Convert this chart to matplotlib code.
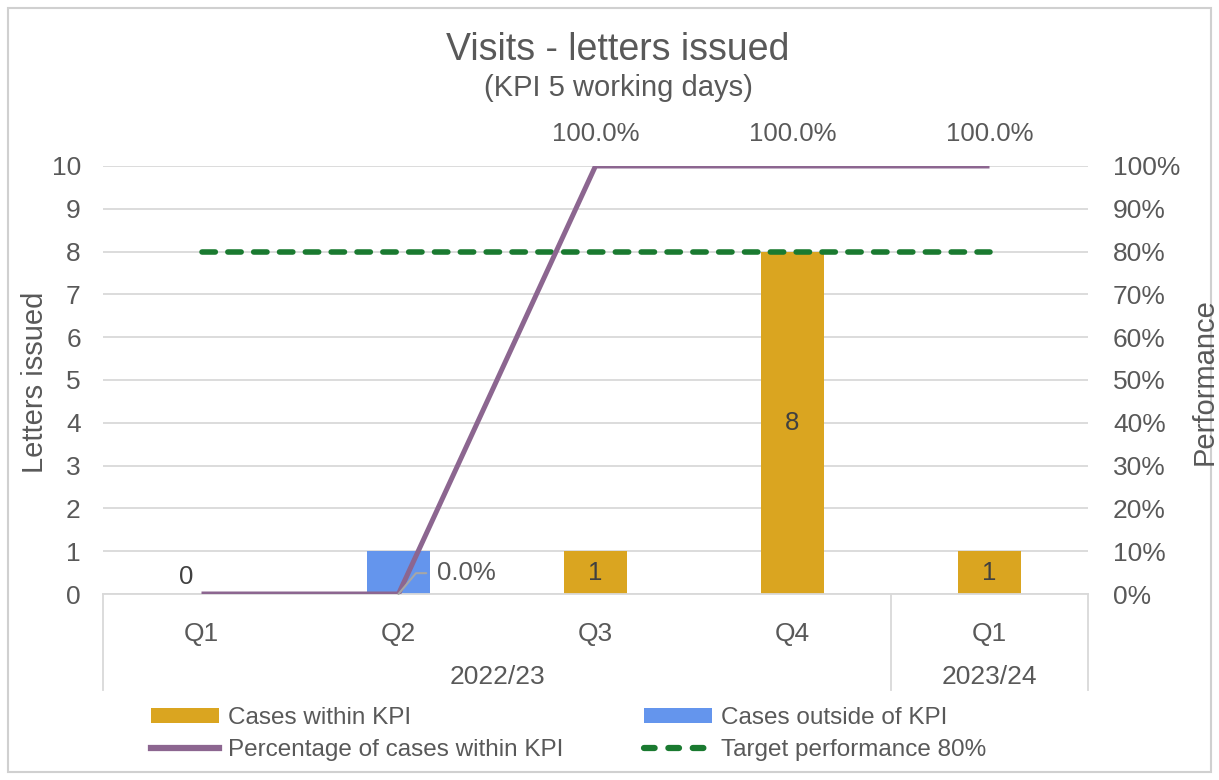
import matplotlib
matplotlib.use("Agg")
import matplotlib.pyplot as plt
from matplotlib.lines import Line2D
from matplotlib.patches import Patch, Rectangle
import numpy as np

quarters = ["Q1", "Q2", "Q3", "Q4", "Q1"]
years = ["2022/23", "2023/24"]
year_spans = [(0, 3), (4, 4)]
within_kpi = [0, 0, 1, 8, 1]
outside_kpi = [0, 1, 0, 0, 0]
pct_within = [0.0, 0.0, 100.0, 100.0, 100.0]
target = [80, 80, 80, 80, 80]

plt.rcParams['font.family'] = ['Liberation Sans', 'DejaVu Sans']
TXT = "#595959"
GOLD = "#DAA520"
BLUE = "#6495ED"
PURPLE = "#8C6690"
GREEN = "#1A7A30"
GRID = "#D9D9D9"
TICK_FS = 19
LBL_FS = 18.5

fig = plt.figure(figsize=(12.19, 7.80), dpi=100)
fig.patches.append(Rectangle((8/1219, 8/780), 1 - 16/1219, 1 - 16/780, transform=fig.transFigure,
                             fill=False, edgecolor="#D0D0D0", linewidth=1.5))

ax = fig.add_axes([103/1219, 1 - 594/780, (1088 - 103)/1219, (594 - 166)/780])
x = np.arange(len(quarters))
bw = 0.315
ax.bar(x, within_kpi, bw, color=GOLD, zorder=2)
ax.bar(x, outside_kpi, bw, bottom=within_kpi, color=BLUE, zorder=2)
ax.set_xlim(-0.5, len(quarters) - 0.5)
ax.set_ylim(0, 10)
ax.set_yticks(range(0, 11))
ax.yaxis.grid(True, color=GRID, linewidth=1.3, zorder=0)
ax.set_axisbelow(True)
for s in ["top", "right", "left"]:
    ax.spines[s].set_visible(False)
ax.spines["bottom"].set_color(GRID)
ax.spines["bottom"].set_linewidth(1.3)
ax.tick_params(axis="y", length=0, pad=16, labelsize=TICK_FS, labelcolor=TXT)
ax.set_xticks([])

# bar labels
for i, v in enumerate(within_kpi):
    if v > 0:
        ax.text(i, v / 2, str(v), ha="center", va="center", fontsize=LBL_FS, color="#404040", zorder=5)
    elif outside_kpi[i] == 0:
        ax.annotate(str(v), (i, v), xytext=(-11, 12), textcoords="offset points",
                    ha="center", va="center", fontsize=LBL_FS, color="#404040")

ax2 = ax.twinx()
ax2.set_ylim(0, 100)
ax2.set_yticks(range(0, 101, 10))
ax2.set_yticklabels([f"{t}%" for t in range(0, 101, 10)])
for s in ["top", "right", "left", "bottom"]:
    ax2.spines[s].set_visible(False)
ax2.tick_params(axis="y", length=0, pad=18, labelsize=TICK_FS, labelcolor=TXT)
ax2.plot(x, target, color=GREEN, linewidth=4, dashes=(2.4, 2.25), dash_capstyle="round", zorder=3)
ax2.plot(x, pct_within, color=PURPLE, linewidth=3.6, zorder=4, solid_capstyle="butt")

for i, p in enumerate(pct_within):
    if p >= 100:
        ax2.annotate(f"{p:.1f}%", (i, p), xytext=(0, 23), textcoords="offset points",
                     ha="center", va="center", fontsize=LBL_FS, color=TXT, annotation_clip=False)
    elif outside_kpi[i] > 0:
        ax2.annotate("", (i, p), xytext=(20, 15), textcoords="offset points",
                     arrowprops=dict(arrowstyle="-", color="#A6A6A6", lw=1.5,
                                     connectionstyle="angle,angleA=0,angleB=50,rad=0",
                                     shrinkA=0, shrinkB=0), zorder=5)
        ax2.annotate(f"{p:.1f}%", (i, p), xytext=(28, 15), textcoords="offset points",
                     ha="left", va="center", fontsize=LBL_FS, color=TXT, zorder=5)

# multi-level category axis
trans = ax.get_xaxis_transform()
for i, q in enumerate(quarters):
    ax.text(i, -0.093, q, transform=trans, ha="center", va="center", fontsize=TICK_FS, color=TXT)
for (a, b), yl in zip(year_spans, years):
    ax.text((a + b) / 2, -0.193, yl, transform=trans, ha="center", va="center", fontsize=TICK_FS, color=TXT)
seps = [-0.5] + [b + 0.5 for a, b in year_spans]
for sx in seps:
    ax.add_line(Line2D([sx, sx], [0, -0.225], transform=trans, color=GRID, linewidth=1.3, clip_on=False))

fig.text(35/1219, 1 - 382/780, "Letters issued", rotation=90, ha="center", va="center", fontsize=21, color=TXT)
fig.text(1205/1219, 1 - 382/780, "Performance", rotation=90, ha="center", va="center", fontsize=21, color=TXT)
fig.text(618/1219, 1 - 50/780, "Visits - letters issued", ha="center", va="center", fontsize=27, color=TXT)
fig.text(618/1219, 1 - 88/780, "(KPI 5 working days)", ha="center", va="center", fontsize=21, color=TXT)

handles = [
    Patch(facecolor=GOLD),
    Line2D([], [], color=PURPLE, linewidth=4.5),
    Patch(facecolor=BLUE),
    Line2D([], [], color=GREEN, linewidth=4.5, dashes=(1.7, 2.2), dash_capstyle="round"),
]
labels = ["Cases within KPI", "Percentage of cases within KPI",
          "Cases outside of KPI", "Target performance 80%"]
leg = fig.legend(handles, labels, ncol=2, loc="center left", bbox_to_anchor=(129/1219, 1 - 734/780),
                 frameon=False, fontsize=17.5, handlelength=2.8, handleheight=0.55, handletextpad=0.37,
                 columnspacing=3.3, labelspacing=0.38, labelcolor=TXT)

fig.savefig("out.png", dpi=100, facecolor="white")
